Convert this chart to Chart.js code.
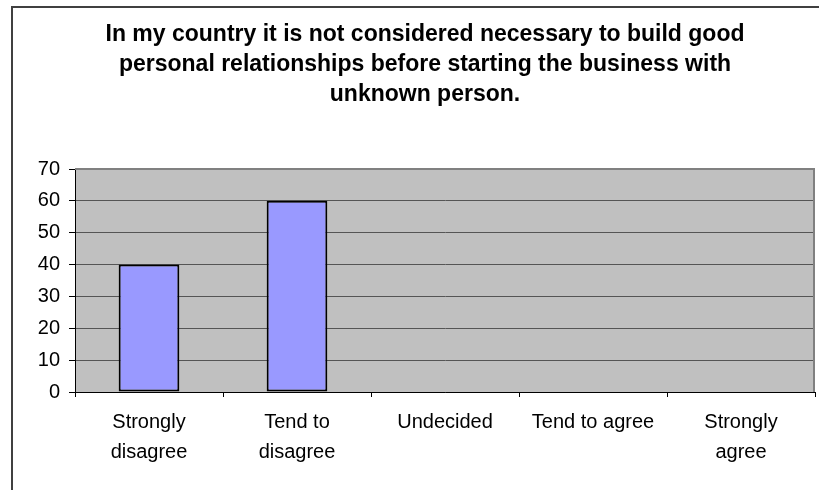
<!DOCTYPE html>
<html>
<head>
<meta charset="utf-8">
<title>Business relationships survey</title>
<script src="https://cdn.jsdelivr.net/npm/chart.js@4.4.1/dist/chart.umd.min.js"></script>
<style>
    html, body { margin: 0; background: #fff; overflow: hidden; }
    #surveyChart { display: block; }
</style>
</head>
<body>
<canvas id="surveyChart" width="819" height="490"></canvas>
<script>
// Respuestas de la encuesta (porcentaje)
const categories = [
    ['Strongly', 'disagree'],
    ['Tend to', 'disagree'],
    'Undecided',
    'Tend to agree',
    ['Strongly', 'agree']
];
const percentages = [40, 60, 0, 0, 0];
const yTicks = [0, 10, 20, 30, 40, 50, 60, 70];

const titleLines = [
    'In my country it is not considered necessary to build good',
    'personal relationships before starting the business with',
    'unknown person.'
];

const FONT = '"Liberation Sans", Arial, sans-serif';

// Marco exterior (solo arriba e izquierda), fondo gris del area de trazado
// y borde derecho/superior del area
const plotBackground = {
    id: 'plotBackground',
    beforeDraw: function(chart) {
        const a = chart.chartArea;
        const ctx = chart.ctx;
        ctx.save();
        ctx.strokeStyle = '#404040';
        ctx.lineWidth = 2;
        ctx.beginPath();
        ctx.moveTo(12, chart.height);
        ctx.lineTo(12, 7);
        ctx.lineTo(chart.width, 7);
        ctx.stroke();
        ctx.fillStyle = '#c0c0c0';
        ctx.fillRect(a.left, a.top, a.right - a.left, a.bottom - a.top);
        ctx.restore();
    },
    afterDatasetsDraw: function(chart) {
        const a = chart.chartArea;
        const ctx = chart.ctx;
        ctx.save();
        ctx.strokeStyle = '#808080';
        ctx.lineWidth = 2;
        ctx.beginPath();
        ctx.moveTo(a.left, a.top);
        ctx.lineTo(a.right - 1, a.top);
        ctx.lineTo(a.right - 1, a.bottom);
        ctx.stroke();
        ctx.restore();
    }
};

function drawChart() {
    const ctx = document.getElementById('surveyChart').getContext('2d');
    const config = {
        type: 'bar',
        data: {
            labels: categories,
            datasets: [{
                data: percentages,
                backgroundColor: '#9999ff',
                borderColor: '#000000',
                borderWidth: 2,
                borderSkipped: false,
                categoryPercentage: 1,
                barPercentage: 0.41
            }]
        },
        options: {
            responsive: false,
            animation: false,
            layout: { padding: { left: 35, right: 4, top: 0, bottom: 0 } },
            plugins: {
                legend: { display: false },
                tooltip: { enabled: false },
                title: {
                    display: true,
                    text: titleLines,
                    color: '#000',
                    font: { family: FONT, size: 23, weight: 'bold', lineHeight: 30 / 23 },
                    padding: { top: 20, bottom: 59 }
                }
            },
            scales: {
                x: {
                    afterFit: function(scale) { scale.height = 98; },
                    grid: {
                        offset: true,
                        drawOnChartArea: false,
                        tickLength: 5,
                        tickColor: '#000'
                    },
                    border: { color: '#000', width: 1 },
                    ticks: {
                        color: '#000',
                        padding: 10,
                        maxRotation: 0,
                        autoSkip: false,
                        font: { family: FONT, size: 20, lineHeight: 1.5 }
                    }
                },
                y: {
                    min: yTicks[0],
                    max: yTicks[yTicks.length - 1],
                    afterFit: function(scale) { scale.width = 40; },
                    afterBuildTicks: function(scale) {
                        scale.ticks = yTicks.map(function(v) { return { value: v }; });
                    },
                    grid: {
                        color: function(c) { return c.tick && c.tick.value === 70 ? '#808080' : '#555555'; },
                        tickLength: 6,
                        tickColor: '#000'
                    },
                    border: { color: '#000', width: 1 },
                    ticks: {
                        color: '#000',
                        padding: 9,
                        font: { family: FONT, size: 20 }
                    }
                }
            }
        },
        plugins: [plotBackground]
    };
    new Chart(ctx, config);
}

drawChart();
</script>
</body>
</html>
